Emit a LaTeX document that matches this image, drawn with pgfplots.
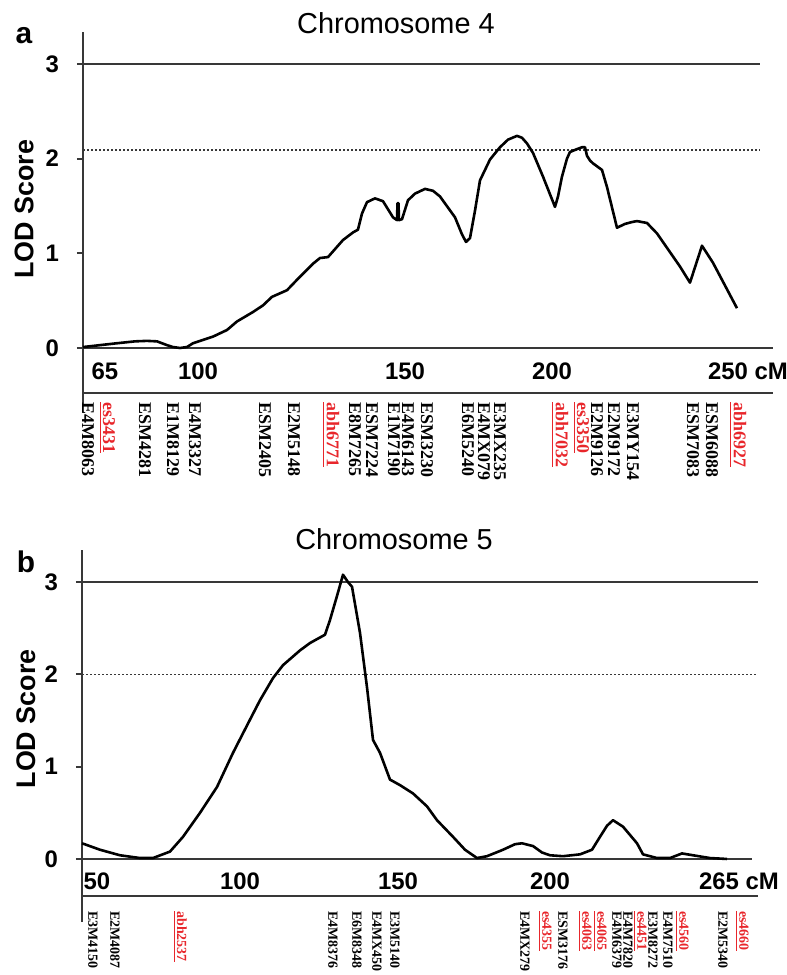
\documentclass[border=0pt]{standalone}
\usepackage{pgfplots}
\pgfplotsset{compat=1.18}
\usepackage{fontspec}
\setmainfont{Liberation Sans}
\newfontfamily\mkfont{Liberation Serif}
\definecolor{mkred}{HTML}{E8262B}
\definecolor{axgray}{HTML}{383838}

\pgfplotsset{lodaxis/.style={
  scale only axis, clip=false,
  axis y line=left, axis x line=bottom,
  axis line style={-, draw=axgray, line width=1bp},
  x axis line style={draw=none},
  ytick={0,1,2,3}, tick align=outside, major tick length=3bp,
  ytick style={draw=axgray, line width=1bp},
  xtick style={draw=none},
  /pgf/number format/assume math mode=true,
  tick label style={font=\fontsize{12}{14}\selectfont\bfseries},
  xticklabel style={anchor=center, yshift=23.5bp},
  yticklabel style={xshift=-5.5bp},
  ylabel={LOD Score},
  ylabel style={font=\fontsize{13.5}{16}\selectfont\bfseries, anchor=center},
}}
\tikzset{mk/.style={rotate=-90, anchor=west, inner sep=0pt, font=\mkfont\bfseries\fontsize{#1}{#1}\selectfont}}

\begin{document}
\begin{tikzpicture}
\useasboundingbox (0,0) rectangle (393.5bp,487.5bp);

% ---- Chromosome 4 ----
\begin{axis}[lodaxis,
  at={(41.5bp,281.5bp)}, anchor=south west,
  width=345bp, height=190bp,
  xmin=83, xmax=773, ymin=-0.676, ymax=3.337,
  xtick={105,198,405,552,748}, xticklabels={65,100,150,200,250 cM},
  ylabel style={at={(axis description cs:-0.0855,0.534)}}]
\draw[axgray, line width=1bp] (axis cs:83,3) -- (axis cs:760,3);
\draw[axgray, line width=0.8bp, dash pattern=on 1bp off 1bp] (axis cs:83,2.09) -- (axis cs:760,2.09);
\draw[axgray, line width=1bp] (axis cs:83,0) -- (axis cs:773,0);
\draw[axgray, line width=1bp] (axis cs:83,-0.475) -- (axis cs:773,-0.475);
\addplot[black, line width=1.3bp, line join=round] coordinates {
(83,0.01)(100,0.03)(117,0.05)(135,0.07)(147,0.075)(157,0.07)(167,0.03)(173,0.01)
(180,0.0)(187,0.01)(193,0.05)(213,0.12)(227,0.19)(237,0.28)(253,0.38)(263,0.45)
(272,0.54)(287,0.61)(297,0.72)(313,0.89)(320,0.95)(328,0.96)(343,1.14)(353,1.22)
(358,1.25)(362,1.42)(367,1.54)(375,1.58)(383,1.55)(393,1.38)(397,1.35)(397.5,1.53)
(398.5,1.53)(399,1.35)(402,1.36)(408,1.56)(415,1.63)(425,1.68)(433,1.66)(440,1.6)
(455,1.38)(462,1.2)(466,1.12)(470,1.16)(475,1.45)(480,1.77)(490,1.99)(500,2.12)
(508,2.2)(517,2.24)(522,2.22)(527,2.16)(533,2.06)(543,1.81)(555,1.49)(558,1.6)
(562,1.81)(567,2.0)(570,2.07)(577,2.10)(582,2.12)(585,2.12)(587,2.03)(590,1.98)
(593,1.95)(602,1.88)(607,1.70)(617,1.27)(625,1.31)(632,1.33)(637,1.34)(647,1.32)
(657,1.21)(680,0.86)(690,0.69)(702,1.08)(713,0.90)(737,0.42)};
\node[font=\fontsize{14.5}{17}\selectfont] at (axis cs:396,3.432) {Chromosome 4};
\node[font=\fontsize{15}{17}\selectfont\bfseries] at (axis cs:24,3.295) {a};
\foreach \x/\t in {88/E4M8063,145/ESM4281,173/E1M8129,195/E4M3327,265/ESM2405,
  294/E2M5148,355/E8M7265,372/ESM7224,394/E1M7190,408/E4M6143,427/ESM3230,
  468/E6M5240,484/E4MX079,500/E3MX235,597/E2M9126,614/E2M9172,633/E3MY154,
  693/ESM7083,712/ESM6088}
  {\edef\tmp{\noexpand\node[mk=9] at (axis cs:\x,-0.57) {\t};}\tmp}
\foreach \x/\t in {107/es3431,331/abh6771,560/abh7032,581/es3350,738/abh6927}
  {\edef\tmp{\noexpand\node[mk=9, text=mkred] at (axis cs:\x,-0.57) {\noexpand\underline{\t}};}\tmp}
\end{axis}

% ---- Chromosome 5 ----
\begin{axis}[lodaxis,
  at={(41bp,26.5bp)}, anchor=south west,
  width=338bp, height=186bp,
  xmin=82, xmax=758, ymin=-0.683, ymax=3.348,
  xtick={97,240,398,550,739}, xticklabels={50,100,150,200,265 cM},
  ylabel style={at={(axis description cs:-0.083,0.546)}}]
\draw[axgray, line width=1bp] (axis cs:82,3) -- (axis cs:758,3);
\draw[axgray, line width=0.8bp, dash pattern=on 1bp off 1bp] (axis cs:82,2) -- (axis cs:756,2);
\draw[axgray, line width=1bp] (axis cs:82,0) -- (axis cs:752,0);
\draw[axgray, line width=1bp] (axis cs:82,-0.401) -- (axis cs:758,-0.401);
\addplot[black, line width=1.3bp, line join=round] coordinates {
(82,0.17)(100,0.10)(120,0.04)(140,0.01)(153,0.01)(170,0.08)(183,0.24)(200,0.50)
(217,0.78)(233,1.15)(250,1.51)(260,1.72)(273,1.96)(283,2.10)(300,2.26)(310,2.34)
(325,2.43)(330,2.59)(337,2.85)(343,3.08)(348,3.00)(352,2.95)(360,2.45)(367,1.86)
(373,1.29)(380,1.15)(390,0.86)(400,0.80)(413,0.71)(427,0.57)(437,0.42)(453,0.24)
(465,0.10)(477,0.01)(487,0.03)(503,0.10)(515,0.16)(522,0.17)(533,0.14)(542,0.07)
(550,0.04)(563,0.03)(580,0.05)(592,0.10)(600,0.24)(607,0.36)(613,0.42)(623,0.35)
(637,0.17)(643,0.05)(657,0.01)(670,0.01)(682,0.06)(693,0.04)(710,0.01)(727,0.0)};
\node[font=\fontsize{14.5}{17}\selectfont] at (axis cs:394,3.467) {Chromosome 5};
\node[font=\fontsize{15}{17}\selectfont\bfseries] at (axis cs:26,3.218) {b};
\foreach \x/\t in {93/E3M4150,115/E2M4087,333/E4M8376,357/E6M8348,377/E4MX450,
  395/E3M5140,525/E4MX279,563/ESM3176,617/E4M6379,628/E4M7820,653/E3M8272,
  668/E4M7510,723/E2M5340}
  {\edef\tmp{\noexpand\node[mk=7] at (axis cs:\x,-0.563) {\t};}\tmp}
\foreach \x/\t in {180/abh2537,545/es4355,585/es4063,600/es4065,640/es4451,
  682/es4560,742/es4660}
  {\edef\tmp{\noexpand\node[mk=7, text=mkred] at (axis cs:\x,-0.563) {\noexpand\underline{\t}};}\tmp}
\end{axis}
\end{tikzpicture}
\end{document}
